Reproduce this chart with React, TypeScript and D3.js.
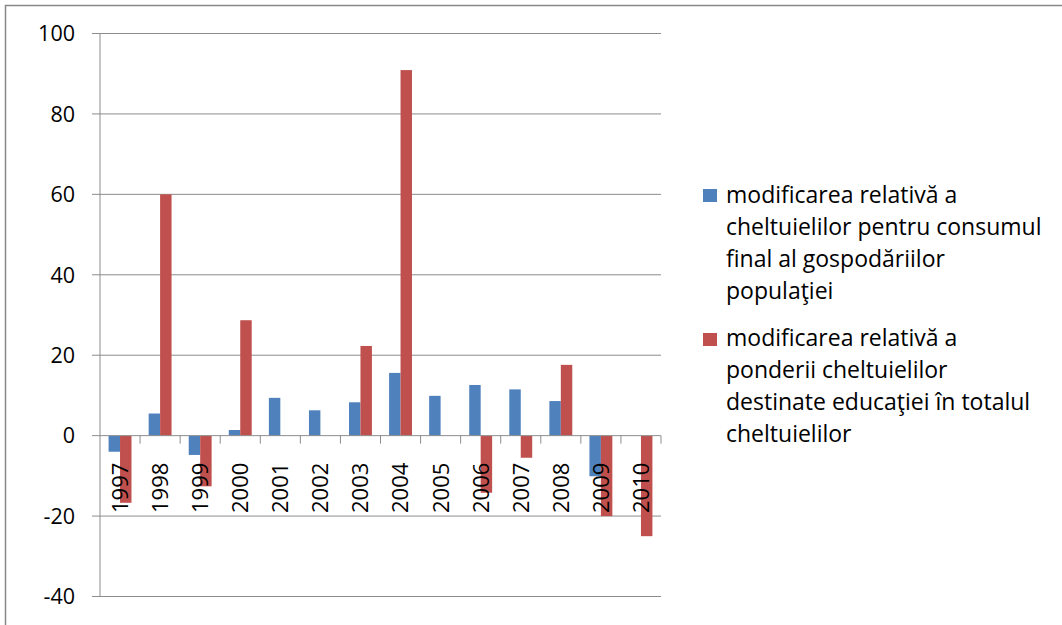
import React from "react";
import * as d3 from "d3";

const years = ["1997","1998","1999","2000","2001","2002","2003","2004","2005","2006","2007","2008","2009","2010"];
const consum = [-4.0, 5.5, -4.8, 1.4, 9.4, 6.3, 8.3, 15.6, 9.9, 12.6, 11.5, 8.6, -10.1, 0];
const ponderea = [-16.7, 60, -12.6, 28.7, 0, 0, 22.3, 90.9, 0, -14.2, -5.5, 17.6, -20, -25];
const yTicks = [100, 80, 60, 40, 20, 0, -20, -40];
const legend1 = ["modificarea relativă a", "cheltuielilor pentru consumul", "final al gospodăriilor", "populaţiei"];
const legend2 = ["modificarea relativă a", "ponderii cheltuielilor", "destinate educaţiei în totalul", "cheltuielilor"];

const BLUE = "#4F81BD";
const RED = "#C0504D";
const GRID = "#8c8c8c";
const FONT = "'Open Sans', sans-serif";

export default function App() {
  const left = 100, right = 661, top = 33.5, bottom = 596.5;
  const y = d3.scaleLinear().domain([-40, 100]).range([bottom, top]);
  const x = d3.scaleBand().domain(years).range([left, right]).paddingInner(0).paddingOuter(0);
  const bw = x.bandwidth();
  const barW = bw / 3.5;
  const sub = d3.scaleBand().domain(["a", "b"]).range([0, barW * 2]);
  const y0 = y(0);

  const bars = (vals: number[], key: string, color: string) =>
    vals.map((v, i) => {
      if (v === 0) return null;
      const bx = (x(years[i]) as number) + (bw - barW * 2) / 2 + (sub(key) as number);
      const yt = Math.min(y(v), y0);
      const h = Math.abs(y(v) - y0);
      return <rect key={key + i} x={bx} y={yt} width={barW} height={h} fill={color} />;
    });

  return (
    <svg width={1062} height={625} style={{ position: "absolute", left: 0, top: 0, background: "#fff" }}>
      <rect x={5.5} y={5.5} width={1100} height={700} fill="#fff" stroke="#888" strokeWidth={1.5} />
      {yTicks.map((t) => (
        <g key={t}>
          {t !== 0 && <line x1={left} x2={right} y1={y(t)} y2={y(t)} stroke={GRID} strokeWidth={1} />}
          <line x1={92} x2={left} y1={y(t)} y2={y(t)} stroke={GRID} strokeWidth={1} />
          <text x={75} y={y(t)} dy="0.36em" textAnchor="end" fontFamily={FONT} fontSize={21.5} fill="#000">{t}</text>
        </g>
      ))}
      {bars(consum, "a", BLUE)}
      {bars(ponderea, "b", RED)}
      <line x1={left} x2={left} y1={top} y2={bottom} stroke={GRID} strokeWidth={1} />
      <line x1={left} x2={right} y1={y0} y2={y0} stroke={GRID} strokeWidth={1} />
      {years.map((yr) => (
        <line key={"tk" + yr} x1={(x(yr) as number) + bw} x2={(x(yr) as number) + bw} y1={y0} y2={y0 + 8} stroke={GRID} strokeWidth={1} />
      ))}
      {years.map((yr) => {
        const cx = (x(yr) as number) + bw / 2;
        return (
          <text key={"xl" + yr} transform={`translate(${cx},${y0 + 27}) rotate(-90)`} textAnchor="end" dy="0.36em"
            fontFamily={FONT} fontSize={22} fill="#000">{yr}</text>
        );
      })}
      <rect x={703} y={189} width={14} height={13} fill={BLUE} />
      {legend1.map((l, i) => (
        <text key={"l1" + i} x={726} y={203 + i * 32} fontFamily={FONT} fontSize={23} fill="#000">{l}</text>
      ))}
      <rect x={703} y={333} width={14} height={13} fill={RED} />
      {legend2.map((l, i) => (
        <text key={"l2" + i} x={726} y={346 + i * 32} fontFamily={FONT} fontSize={23} fill="#000">{l}</text>
      ))}
    </svg>
  );
}
